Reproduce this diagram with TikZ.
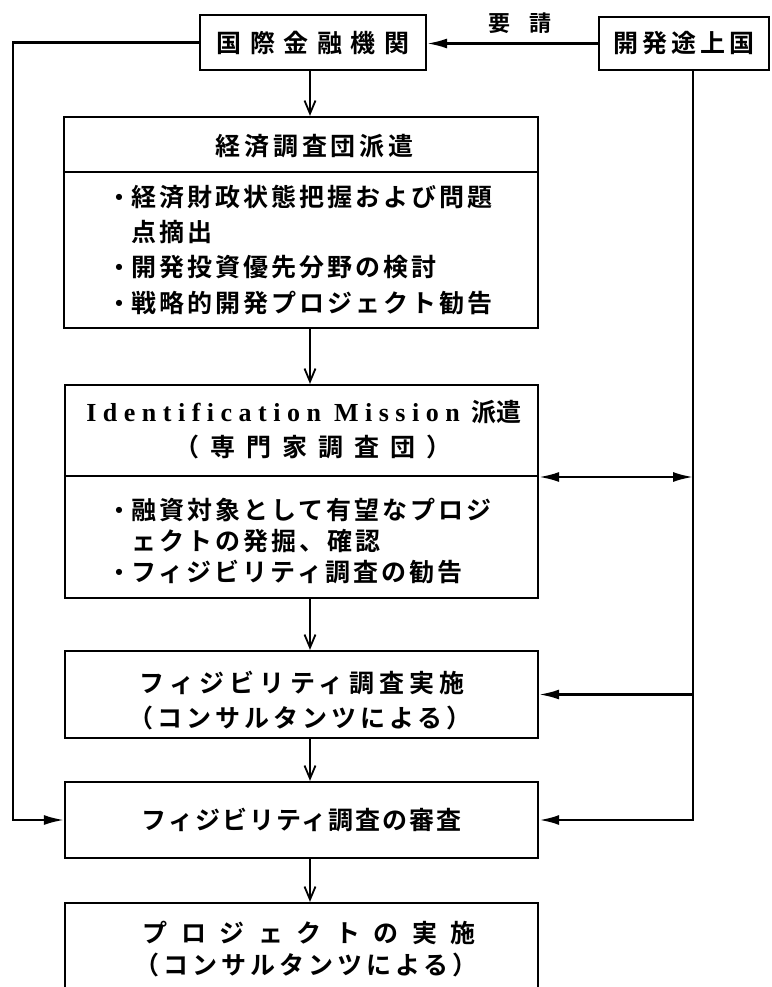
\documentclass[tikz,border=0pt]{standalone}
\usepackage{fontspec}
\setmainfont{Liberation Serif}
\newfontfamily\jp{Noto Sans CJK JP}[BoldFont=* Bold]
\newfontfamily\dvs{DejaVu Sans}
\usetikzlibrary{arrows.meta}
\newcommand\LSp[2]{{\addfontfeature{LetterSpace=#1}#2}}
\newcommand\jpf{\jp\bfseries\fontsize{25}{28}\selectfont}
\begin{document}
\begin{tikzpicture}[x=1pt,y=-1pt,
  box/.style={draw, line width=2.3pt, inner sep=0pt, font=\jpf},
  txt/.style={inner sep=0pt, font=\jpf},
  bul/.style={inner sep=0pt, font=\dvs\fontsize{8}{10}\selectfont},
  ln/.style={line width=2.2pt},
  va/.style={ln, -{Straight Barb[length=13pt,width=11pt,line width=1.8pt]}},
  ha/.style={ln, -{Latex[length=20pt,width=10pt]}},
  dha/.style={ln, {Latex[length=20pt,width=10pt]}-{Latex[length=20pt,width=10pt]}},
]
\useasboundingbox (0,0) rectangle (771,987);
\fill[white] (0,0) rectangle (771,987);
% boxes
\node[box, minimum width=226pt, minimum height=55pt] (kokusai) at (313,42.5) {\LSp{34}{国際金融機関}};
\node[box, minimum width=170pt, minimum height=53pt] (kaihatsu) at (684,43.5) {\LSp{16}{開発途上国}};
\node[box, minimum width=474pt, minimum height=211pt] (keizai) at (301,222.5) {};
\node[box, minimum width=473pt, minimum height=213pt] (ident) at (301.5,491.5) {};
\node[box, minimum width=473pt, minimum height=87pt] (feas) at (301.5,694.5) {};
\node[box, minimum width=473pt, minimum height=76pt] (shinsa) at (301.5,820) {\LSp{8}{フィジビリティ調査の審査}};
\begin{scope}
\clip (0,0) rectangle (771,987);
\node[box, minimum width=473pt, minimum height=107pt] (proj) at (301.5,956.5) {};
\end{scope}
% dividers
\draw[line width=2.3pt] (keizai.west |- 0,172) -- (keizai.east |- 0,172);
\draw[line width=2.3pt] (ident.west |- 0,476) -- (ident.east |- 0,476);
% label
\node[txt, font=\jp\bfseries\fontsize{22}{24}\selectfont] (yosei) at (520,23) {\LSp{90}{要請}};
% keizai texts
\node[txt] (kt) at (314.5,146) {\LSp{15}{経済調査団派遣}};
\node[bul] (kb1) at (119,197) {●};
\node[txt, anchor=west] (k1) at (131,197) {\LSp{12}{経済財政状態把握および問題}};
\node[txt, anchor=west] (k2) at (131,232) {\LSp{12}{点摘出}};
\node[bul] (kb3) at (119,267) {●};
\node[txt, anchor=west] (k3) at (131,267) {\LSp{12}{開発投資優先分野の検討}};
\node[bul] (kb4) at (119,303) {●};
\node[txt, anchor=west] (k4) at (131,303) {\LSp{12}{戦略的開発プロジェクト勧告}};
% ident texts
\node[txt] (it1) at (304,412) {{\rmfamily\bfseries\fontsize{26}{28}\selectfont\LSp{25}{Identification Mission}}\hspace{12pt}派遣};
\node[txt] (it2) at (313,447) {\LSp{44}{（専門家調査団）}};
\node[bul] (ib1) at (119,510) {●};
\node[txt, anchor=west] (i1) at (131,510) {\LSp{12}{融資対象として有望なプロジ}};
\node[txt, anchor=west] (i2) at (131,541) {\LSp{12}{ェクトの発掘、確認}};
\node[bul] (ib3) at (119,572) {●};
\node[txt, anchor=west] (i3) at (131,572) {\LSp{12}{フィジビリティ調査の勧告}};
% feas texts
\node[txt] (f1) at (302,683) {\LSp{21}{フィジビリティ調査実施}};
\node[txt] (f2) at (300,718) {\LSp{16}{（コンサルタンツによる）}};
% proj texts
\node[txt] (p1) at (309,933) {\LSp{54}{プロジェクトの実施}};
\node[txt] (p2) at (306,965) {\LSp{16}{（コンサルタンツによる）}};
% connectors
\coordinate (ax) at (310,0);
\coordinate (L) at (13,0);
\coordinate (R) at (693,0);
\draw[ha] (kaihatsu.west) -- (kaihatsu.west -| kokusai.east);
\draw[va] (kokusai.south -| ax) -- (keizai.north -| ax);
\draw[va] (keizai.south -| ax) -- (ident.north -| ax);
\draw[va] (ident.south -| ax) -- (feas.north -| ax);
\draw[va] (feas.south -| ax) -- (shinsa.north -| ax);
\draw[va] (shinsa.south -| ax) -- (proj.north -| ax);
\draw[ha] (kokusai.west) -| (L |- shinsa.west) -- (shinsa.west);
\draw[ha, line width=2.6pt] (kaihatsu.south -| R) -- (R |- shinsa.east) -- (shinsa.east);
\draw[ha] (R |- feas.east) -- (feas.east);
\draw[dha] (ident.east |- 0,477) -- (R |- 0,477);
\end{tikzpicture}
\end{document}
